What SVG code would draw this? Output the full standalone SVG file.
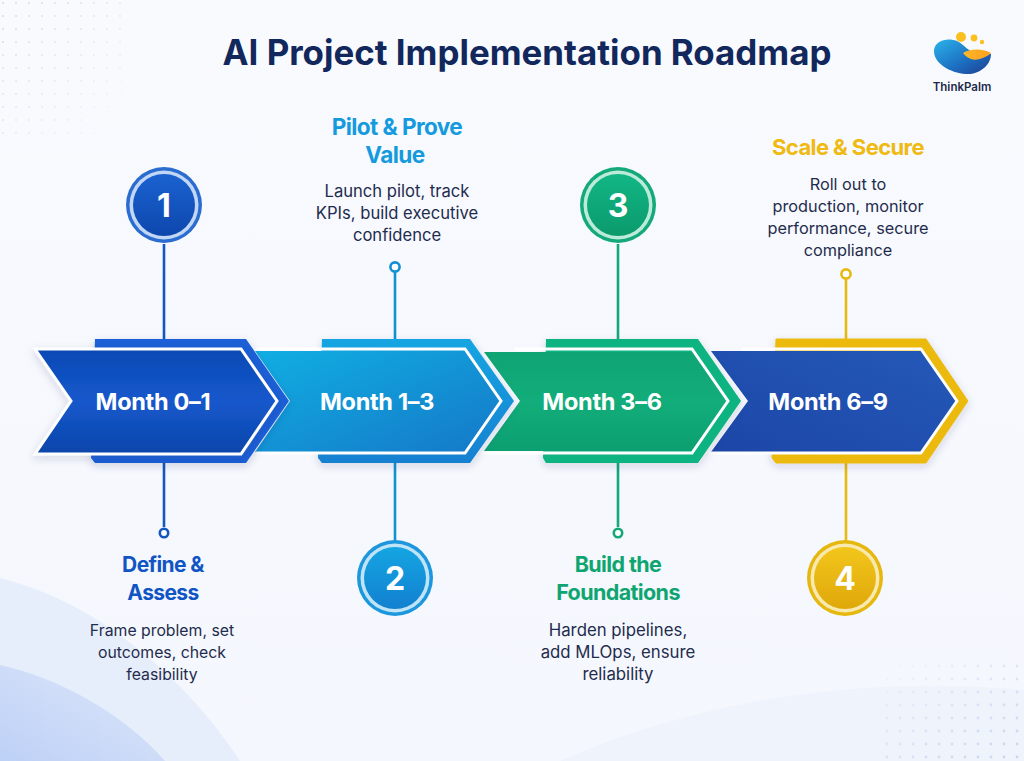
<svg xmlns="http://www.w3.org/2000/svg" width="1024" height="761" viewBox="0 0 1024 761">
<style>
text{font-family:Inter,"Liberation Sans",sans-serif;text-anchor:middle}
.title{font-size:34.9px;font-weight:700;fill:#12275c}
.head{font-weight:700;letter-spacing:-.6px}
.body{font-weight:400;fill:#1f2c4d}
.s1 .head{font-size:21px}.s2 .head{font-size:22.6px}.s3 .head{font-size:21.5px}.s4 .head{font-size:22px}
.s1 .body{font-size:15.8px}.s2 .body{font-size:16.6px}.s3 .body{font-size:16.8px}.s4 .body{font-size:16.3px}
.month{font-size:23.5px;font-weight:700;fill:#fff;letter-spacing:-.3px}
.num{font-size:32px;font-weight:700;fill:#fff}
.edge{fill:none;stroke-width:2.6}
.frame{fill:none;stroke:#fff;stroke-width:3;stroke-linejoin:miter}
</style>
<defs>
<linearGradient id="bg" x1="0" y1="0" x2="0" y2="1"><stop offset="0" stop-color="#f8fafe"/><stop offset="1" stop-color="#f4f7fd"/></linearGradient>
<linearGradient id="w1" x1="0" y1="1" x2="1" y2="0"><stop offset="0" stop-color="#bdd0f6"/><stop offset="1" stop-color="#dfe8fa"/></linearGradient>
<linearGradient id="g1" x1="0" y1="0" x2="0" y2="1"><stop offset="0" stop-color="#0b49b4"/><stop offset=".5" stop-color="#1558cc"/><stop offset="1" stop-color="#0b45aa"/></linearGradient>
<linearGradient id="g2" x1="0" y1="0" x2="1" y2="1"><stop offset="0" stop-color="#10aee2"/><stop offset="1" stop-color="#1578c8"/></linearGradient>
<linearGradient id="g3" x1="0" y1="0" x2="0" y2="1"><stop offset="0" stop-color="#0fa473"/><stop offset=".5" stop-color="#12ad7a"/><stop offset="1" stop-color="#0c9f70"/></linearGradient>
<linearGradient id="g4" x1="0" y1="1" x2="1" y2="0"><stop offset="0" stop-color="#1c46a8"/><stop offset="1" stop-color="#2459b8"/></linearGradient>
<linearGradient id="c1" x1="0" y1="0" x2="0" y2="1"><stop offset="0" stop-color="#1a62d0"/><stop offset="1" stop-color="#0d47ad"/></linearGradient>
<linearGradient id="c2" x1="0" y1="0" x2="0" y2="1"><stop offset="0" stop-color="#15a5e2"/><stop offset="1" stop-color="#1280d0"/></linearGradient>
<linearGradient id="c3" x1="0" y1="0" x2="0" y2="1"><stop offset="0" stop-color="#12b685"/><stop offset="1" stop-color="#0b9a6c"/></linearGradient>
<linearGradient id="c4" x1="0" y1="0" x2="0" y2="1"><stop offset="0" stop-color="#f2c61c"/><stop offset="1" stop-color="#e0a80a"/></linearGradient>
<linearGradient id="blob" x1="0" y1="0" x2="1" y2="1"><stop offset="0" stop-color="#2bb4ea"/><stop offset=".6" stop-color="#1c6cc0"/><stop offset="1" stop-color="#1f3c8c"/></linearGradient>
<linearGradient id="sun" x1="0" y1="0" x2="1" y2="0"><stop offset="0" stop-color="#fdb62a"/><stop offset="1" stop-color="#f9a11c"/></linearGradient>
<pattern id="dots" width="13" height="13" patternUnits="userSpaceOnUse"><circle cx="3" cy="3" r="1" fill="#cfdaf0"/></pattern>
<pattern id="dots2" width="13" height="13" patternUnits="userSpaceOnUse"><circle cx="3" cy="3" r="1.4" fill="#c6d4ef"/></pattern>
<linearGradient id="fadeTL" x1="0" y1="0" x2="1" y2="1"><stop offset="0" stop-color="#fff"/><stop offset="1" stop-color="#000"/></linearGradient>
<linearGradient id="fadeBR" x1="1" y1="1" x2="0" y2="0"><stop offset="0" stop-color="#fff"/><stop offset="1" stop-color="#000"/></linearGradient>
<mask id="mTL"><rect width="130" height="140" fill="url(#fadeTL)"/></mask>
<mask id="mBR"><rect x="880" y="660" width="144" height="101" fill="url(#fadeBR)"/></mask>
<filter id="soft" x="-10%" y="-20%" width="120%" height="140%"><feDropShadow dx="0" dy="3" stdDeviation="4" flood-color="#23345c" flood-opacity=".16"/></filter>
</defs>

<g id="background">
<rect width="1024" height="761" fill="url(#bg)"/>
<path d="M0 578C90 600 180 670 240 761H0Z" fill="#e7eefb"/>
<path d="M0 665C60 678 125 715 165 761H0Z" fill="url(#w1)"/>
<path d="M560 761C700 700 860 675 1024 690V761Z" fill="#eff3fc"/>
<rect width="130" height="140" fill="url(#dots)" mask="url(#mTL)"/>
<rect x="880" y="660" width="144" height="101" fill="url(#dots2)" mask="url(#mBR)"/>
</g>

<text class="title" x="527" y="65">AI Project Implementation Roadmap</text>

<g id="logo">
<path d="M934 50C935 41 947 37 957 41C965 45 968 52 977 53C983 54 990 53 991 54C991 66 978 75 966 74C950 73 933 63 934 50Z" fill="url(#blob)"/>
<path d="M963 53C972 48 984 49 991 53C986 58 976 61 971 59C968 58 965 56 963 53Z" fill="url(#sun)"/>
<circle cx="961" cy="37" r="5" fill="#fbc01f"/><circle cx="974" cy="38" r="3.4" fill="#fbc01f"/><circle cx="982" cy="42" r="2.2" fill="#fbc01f"/>
<text x="962" y="91" style="font-size:11.5px;font-weight:600;fill:#1d2b4a">ThinkPalm</text>
</g>

<g id="connectors">
<path class="edge" stroke="#1557c0" d="M164 244V340M164 463V527"/>
<path class="edge" stroke="#1390d4" d="M395 272V340M395 463V541"/>
<path class="edge" stroke="#12a878" d="M618 244V340M618 463V527"/>
<path class="edge" stroke="#e8b90f" d="M846 279V340M846 463V541"/>
</g>

<g id="arrow4">
<path d="M776 339H926L968 401 926 463H776L772 458 776 339Z" fill="#ecba10" stroke="#ecba10" stroke-width="1" stroke-linejoin="round" filter="url(#soft)"/>
<path d="M711 351H921L957 401 921 452H711L748 401Z" fill="url(#g4)"/>
<path class="frame" d="M742 349H921L957 401 921 453H708" style="stroke-linejoin:round"/>
<text class="month" x="828" y="410">Month 6–9</text>
</g>
<g id="arrow3">
<path d="M546 339H698L741 401 698 463H546L543 458 546 339Z" fill="#11b380" filter="url(#soft)"/>
<path d="M484 352H692L728 401 692 451H484L520 401Z" fill="url(#g3)"/>
<path class="frame" d="M514 349H692L728 401 692 453H480"/>
<text class="month" x="602" y="410">Month 3–6</text>
</g>
<g id="arrow2">
<path d="M322 339H470L514 401 470 463H322L318 458 322 339Z" fill="url(#c2)" filter="url(#soft)"/>
<path d="M255 351H465L502 401 465 452H255L290 401Z" fill="url(#g2)"/>
<path class="frame" d="M256 349H465L501 401 465 453H256"/>
<text class="month" x="377" y="410">Month 1–3</text>
</g>
<g id="arrow1">
<path d="M95 339H246L289 401 246 463H95L91 458 95 339Z" fill="#1a5fd6" filter="url(#soft)"/>
<path d="M35 349H241L277 401 241 454H35L71 401Z" fill="url(#g1)" stroke="#fff" stroke-width="3" filter="url(#soft)"/>
<text class="month" x="153" y="410">Month 0–1</text>
</g>

<g id="step1" class="s1">
<circle cx="164" cy="205" r="38" fill="#2b6cd0"/><circle cx="164" cy="205" r="34.5" fill="#c2d7f6"/><circle cx="164" cy="205" r="31" fill="url(#c1)"/>
<text class="num" x="164" y="217">1</text>
<circle cx="164" cy="533" r="4.2" fill="#fff" stroke="#1557c0" stroke-width="2.6"/>
<text class="head" x="163" y="572" fill="#1155c4">Define &amp;</text><text class="head" x="163" y="600" fill="#1155c4">Assess</text>
<text class="body" x="162" y="636">Frame problem, set</text><text class="body" x="162" y="658">outcomes, check</text><text class="body" x="162" y="680">feasibility</text>
</g>
<g id="step2" class="s2">
<circle cx="395" cy="578" r="38" fill="#1c96dc"/><circle cx="395" cy="578" r="34.5" fill="#bfe4f8"/><circle cx="395" cy="578" r="31" fill="url(#c2)"/>
<text class="num" x="395" y="590">2</text>
<circle cx="395" cy="267" r="4.6" fill="#fff" stroke="#1390d4" stroke-width="2.6"/>
<text class="head" x="397" y="135" fill="#159ade">Pilot &amp; Prove</text><text class="head" x="395" y="163" fill="#159ade">Value</text>
<text class="body" x="397" y="197">Launch pilot, track</text><text class="body" x="397" y="219">KPIs, build executive</text><text class="body" x="397" y="241">confidence</text>
</g>
<g id="step3" class="s3">
<circle cx="618" cy="205" r="38" fill="#14a97a"/><circle cx="618" cy="205" r="34.5" fill="#bdebd9"/><circle cx="618" cy="205" r="31" fill="url(#c3)"/>
<text class="num" x="618" y="217">3</text>
<circle cx="618" cy="533" r="4.2" fill="#fff" stroke="#12a878" stroke-width="2.6"/>
<text class="head" x="618" y="572" fill="#0fa571">Build the</text><text class="head" x="618" y="600" fill="#0fa571">Foundations</text>
<text class="body" x="618" y="636">Harden pipelines,</text><text class="body" x="618" y="658">add MLOps, ensure</text><text class="body" x="618" y="680">reliability</text>
</g>
<g id="step4" class="s4">
<circle cx="845" cy="578" r="38" fill="#e6b70e"/><circle cx="845" cy="578" r="34.5" fill="#f8e9ae"/><circle cx="845" cy="578" r="31" fill="url(#c4)"/>
<text class="num" x="845" y="590">4</text>
<circle cx="846" cy="274" r="4.6" fill="#fff" stroke="#e8b90f" stroke-width="2.6"/>
<text class="head" x="848" y="155" fill="#efba12">Scale &amp; Secure</text>
<text class="body" x="848" y="190">Roll out to</text><text class="body" x="848" y="212">production, monitor</text><text class="body" x="848" y="234">performance, secure</text><text class="body" x="848" y="256">compliance</text>
</g>
</svg>
